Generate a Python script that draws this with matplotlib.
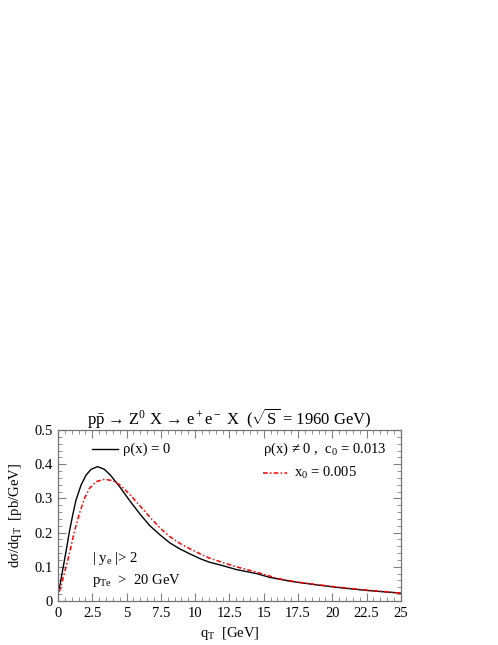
import numpy as np
import matplotlib
matplotlib.use('Agg')
import matplotlib.pyplot as plt
from matplotlib.ticker import MultipleLocator, FormatStrFormatter

plt.rcParams['font.family'] = ['Liberation Serif', 'DejaVu Serif']
plt.rcParams['mathtext.fontset'] = 'custom'
plt.rcParams['mathtext.rm'] = 'Liberation Serif'
plt.rcParams['mathtext.it'] = 'Liberation Serif:italic'

# curves
q_rho0 = [0.1, 0.34, 0.58, 0.83, 1.07, 1.31, 1.68, 2.04, 2.41, 2.89, 3.38, 3.8, 4.5, 5.25, 6.0,
          6.7, 7.45, 8.15, 8.9, 9.6, 10.35, 11.0, 12.05, 13.0, 14.5, 15.45, 16.9, 18.5, 20.3, 22.5, 25.0]
v_rho0 = [0.037, 0.091, 0.144, 0.203, 0.251, 0.295, 0.339, 0.368, 0.385, 0.393, 0.385, 0.369, 0.334, 0.292, 0.253,
          0.220, 0.193, 0.170, 0.152, 0.138, 0.124, 0.114, 0.103, 0.092, 0.080, 0.069, 0.058, 0.049, 0.040, 0.031, 0.023]

q_rho = [0.1, 0.46, 0.83, 1.19, 1.56, 1.92, 2.28, 2.77, 3.38, 3.98, 4.52, 5.25, 6.0, 6.7,
         7.45, 8.15, 8.9, 9.6, 10.35, 11.0, 12.05, 13.0, 14.5, 16.0, 17.5, 20.3, 22.5, 25.0]
v_rho = [0.027, 0.081, 0.139, 0.203, 0.256, 0.300, 0.329, 0.349, 0.356, 0.352, 0.339, 0.311, 0.277, 0.245,
         0.213, 0.188, 0.168, 0.153, 0.138, 0.126, 0.112, 0.100, 0.084, 0.066, 0.055, 0.041, 0.032, 0.023]

xticks = [0, 2.5, 5, 7.5, 10, 12.5, 15, 17.5, 20, 22.5, 25]
yticks = [0, 0.1, 0.2, 0.3, 0.4, 0.5]

red_style = (0, (3, 1.5, 1, 1.5))

fig = plt.figure(figsize=(4.98, 6.45), dpi=100)
ax = fig.add_axes([0.1165, 0.0682, 0.6885, 0.2651])

ax.plot(q_rho0, v_rho0, color='black', lw=1.0)
ax.plot(q_rho, v_rho, color='red', lw=1.1, linestyle=red_style)

ax.set_xlim(0, 25)
ax.set_ylim(0, 0.5)
ax.set_xticks(xticks)
ax.set_yticks(yticks)
ax.xaxis.set_major_formatter(FormatStrFormatter('%g'))
ax.yaxis.set_major_formatter(FormatStrFormatter('%g'))
ax.xaxis.set_minor_locator(MultipleLocator(0.5))
ax.yaxis.set_minor_locator(MultipleLocator(0.02))
ax.tick_params(which='both', direction='in', top=True, right=True,
               color='0.5', labelsize=10.5, pad=4)
ax.tick_params(which='major', length=6, width=0.8)
ax.tick_params(which='minor', length=3, width=0.6)
for s in ax.spines.values():
    s.set_color('0.45')
    s.set_linewidth(0.9)

ax.set_title('p$\\bar{\\rm p}$ \u2192 Z$^0$ X \u2192 e$^+$e$^-$ X  ($\\sqrt{\\rm S}$ = 1960 GeV)',
             fontsize=12, pad=3)
ax.set_xlabel('q$_{\\rm T}$  [GeV]', fontsize=10.5, labelpad=4)
ax.set_ylabel('d\u03c3/dq$_{\\rm T}$  [pb/GeV]', fontsize=10.5, labelpad=7)

# legend by hand, as in the original
ax.plot([2.5, 4.4], [0.445, 0.445], color='black', lw=1.0)
ax.text(4.75, 0.445, '\u03c1(x) = 0', fontsize=10.5, va='center')
ax.text(14.95, 0.445, '\u03c1(x) \u2260 0 ,  c$_0$ = 0.013', fontsize=10.5, va='center')
ax.plot([14.95, 16.7], [0.374, 0.374], color='red', lw=1.1, linestyle=red_style)
ax.text(17.2, 0.374, 'x$_0$ = 0.005', fontsize=10.5, va='center')

ax.text(2.5, 0.125, '| y$_{\\rm e}$ |> 2', fontsize=10.5, va='center')
ax.text(2.5, 0.06, 'p$_{\\rm Te}$  >  20 GeV', fontsize=10.5, va='center')

fig.savefig('out.png', dpi=100)
